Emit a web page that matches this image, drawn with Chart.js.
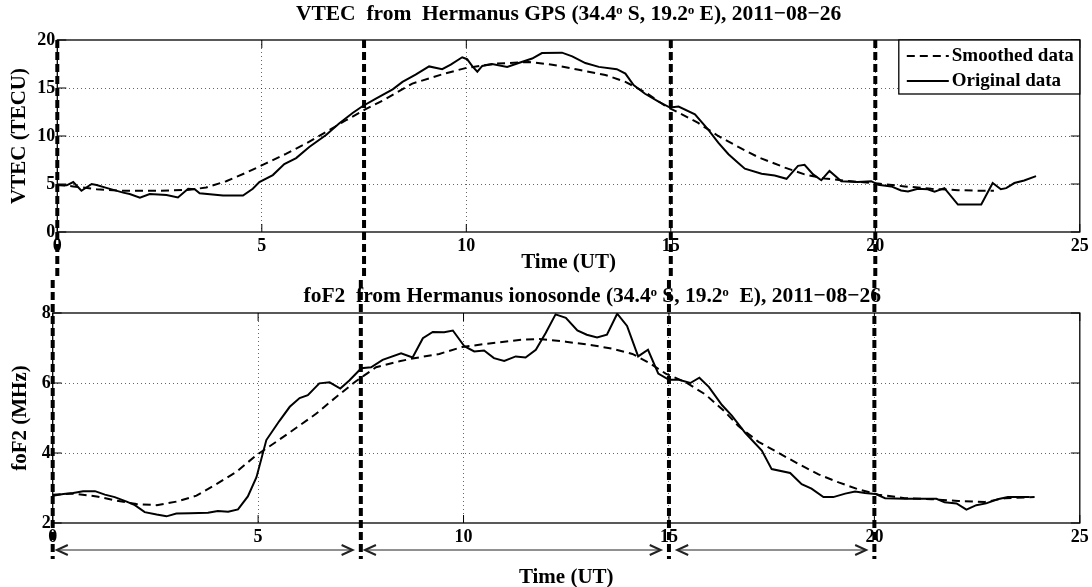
<!DOCTYPE html>
<html>
<head>
<meta charset="utf-8">
<script src="https://cdn.jsdelivr.net/npm/chart.js@4.4.0/dist/chart.umd.min.js"></script>
<style>
  html, body { margin: 0; padding: 0; background: #fff; }
  #wrap { position: relative; width: 1092px; height: 587px; overflow: hidden; }
  #vtecChart { position: absolute; left: 0; top: 0; }
  #fof2Chart { position: absolute; left: 0; top: 280px; }
</style>
</head>
<body>
<div id="wrap">
  <canvas id="vtecChart" width="1092" height="280"></canvas>
  <canvas id="fof2Chart" width="1092" height="307"></canvas>
</div>
<script>
// VTEC, original data (hours UT / TECU)
var vtecRawTime = [0, 0.23, 0.39, 0.59, 0.84, 0.96, 1.2, 1.61, 1.77, 2.02, 2.26, 2.67, 2.95, 3.2, 3.36, 3.48, 4.05, 4.54, 4.78, 4.94,
  5.27, 5.55, 5.84, 6.16, 6.57, 6.89, 7.22, 7.46, 7.79, 8.2, 8.44, 8.76, 9.09, 9.41, 9.62, 9.9, 10.02, 10.15, 10.27, 10.39,
  10.63, 11.0, 11.28, 11.61, 11.85, 12.34, 12.59, 12.91, 13.24, 13.68, 13.89, 14.09, 14.37, 14.7, 14.98, 15.19, 15.59, 15.92, 16.16, 16.41,
  16.65, 16.81, 17.22, 17.54, 17.83, 18.11, 18.27, 18.48, 18.68, 18.88, 19.17, 19.57, 19.9, 20.07, 20.39, 20.63, 20.8, 21.04, 21.28, 21.45,
  21.69, 22.02, 22.59, 22.87, 23.07, 23.2, 23.4, 23.64, 23.93];
var vtecRawValue = [4.86, 4.86, 5.2, 4.3, 5.0, 4.9, 4.6, 4.1, 3.96, 3.57, 3.96, 3.86, 3.6, 4.5, 4.46, 4.03, 3.79, 3.79, 4.5, 5.2,
  5.93, 7.07, 7.7, 8.86, 10.1, 11.3, 12.4, 13.1, 13.9, 14.86, 15.64, 16.4, 17.25, 16.96, 17.43, 18.2, 18.0, 17.25, 16.7, 17.3,
  17.5, 17.2, 17.6, 18.07, 18.64, 18.68, 18.3, 17.6, 17.2, 16.96, 16.5, 15.3, 14.4, 13.57, 12.96, 13.07, 12.25, 10.64, 9.3, 8.1,
  7.2, 6.6, 6.07, 5.89, 5.54, 6.89, 7.0, 6.0, 5.39, 6.36, 5.29, 5.21, 5.29, 4.93, 4.75, 4.32, 4.21, 4.5, 4.46, 4.21,
  4.57, 2.86, 2.86, 5.1, 4.46, 4.57, 5.1, 5.36, 5.82];

// VTEC, smoothed
var vtecSmoothTime = [0, 0.39, 0.96, 1.61, 2.42, 3.24, 3.64, 4.13, 4.62, 5.1, 5.59, 6.08, 6.57, 7.06, 7.54, 8.03, 8.68, 9.5, 9.98, 10.72,
  11.53, 12.1, 12.75, 13.4, 13.89, 14.37, 14.86, 15.19, 15.67, 16.16, 16.65, 17.14, 17.79, 18.27, 18.76, 19.41, 20.07, 20.72, 21.37, 22.02,
  22.67, 22.9];
var vtecSmoothValue = [4.93, 4.75, 4.46, 4.29, 4.29, 4.39, 4.64, 5.29, 6.18, 7.14, 8.14, 9.21, 10.43, 11.64, 12.79, 13.86, 15.46, 16.54, 17.07, 17.54,
  17.71, 17.43, 16.9, 16.36, 15.64, 14.57, 13.14, 12.43, 11.36, 10.0, 8.86, 7.79, 6.71, 6.0, 5.57, 5.29, 5.04, 4.75, 4.5, 4.36,
  4.29, 4.3];

// foF2, original data (hours UT / MHz)
var fof2RawTime = [0, 0.26, 0.5, 0.74, 1.03, 1.27, 1.51, 1.8, 2.0, 2.24, 2.53, 2.77, 3.01, 3.34, 3.78, 4.02, 4.27, 4.51, 4.75, 4.96,
  5.2, 5.52, 5.77, 6.01, 6.21, 6.49, 6.74, 7.0, 7.22, 7.51, 7.75, 8.03, 8.48, 8.76, 9.01, 9.25, 9.53, 9.74, 10.02, 10.26,
  10.5, 10.74, 10.99, 11.27, 11.51, 11.76, 12.0, 12.24, 12.49, 12.77, 13.0, 13.25, 13.49, 13.74, 13.98, 14.25, 14.49, 14.74, 15.0, 15.24,
  15.52, 15.74, 15.97, 16.29, 16.53, 16.86, 17.26, 17.5, 17.95, 18.23, 18.47, 18.76, 19.0, 19.29, 19.53, 19.77, 20.02, 20.26, 20.74, 21.23,
  21.51, 21.71, 22.0, 22.24, 22.48, 22.72, 23.0, 23.25, 23.49, 23.78];
var fof2RawValue = [2.78, 2.83, 2.86, 2.91, 2.91, 2.81, 2.74, 2.61, 2.51, 2.31, 2.24, 2.19, 2.27, 2.28, 2.29, 2.34, 2.32, 2.39, 2.76, 3.31,
  4.37, 4.92, 5.32, 5.57, 5.65, 5.99, 6.02, 5.84, 6.07, 6.42, 6.45, 6.66, 6.85, 6.73, 7.28, 7.46, 7.45, 7.5, 7.05, 6.9,
  6.93, 6.71, 6.63, 6.76, 6.73, 6.95, 7.43, 7.96, 7.86, 7.5, 7.38, 7.3, 7.38, 7.98, 7.63, 6.76, 6.95, 6.27, 6.09, 6.09,
  6.0, 6.15, 5.89, 5.37, 5.07, 4.57, 4.07, 3.54, 3.43, 3.11, 2.98, 2.74, 2.74, 2.84, 2.9, 2.86, 2.83, 2.71, 2.69, 2.69,
  2.69, 2.59, 2.56, 2.38, 2.51, 2.56, 2.68, 2.74, 2.74, 2.74];

// foF2, smoothed
var fof2SmoothTime = [0, 0.5, 1.07, 1.55, 2.04, 2.53, 3.01, 3.5, 3.98, 4.47, 4.96, 5.44, 5.93, 6.41, 6.9, 7.38, 7.87, 8.44, 8.76, 9.41,
  9.97, 10.63, 11.35, 11.84, 12.49, 13.13, 13.62, 14.11, 14.51, 14.92, 15.41, 15.89, 16.37, 16.69, 17.18, 17.67, 18.15, 18.64, 19.13, 19.61,
  20.1, 20.74, 21.39, 22.04, 22.69, 23.18, 23.9];
var fof2SmoothValue = [2.81, 2.84, 2.76, 2.64, 2.54, 2.51, 2.61, 2.78, 3.11, 3.46, 3.94, 4.32, 4.72, 5.12, 5.6, 6.05, 6.45, 6.62, 6.7, 6.83,
  7.03, 7.13, 7.23, 7.26, 7.18, 7.08, 6.98, 6.83, 6.58, 6.27, 6.02, 5.67, 5.17, 4.77, 4.32, 4.0, 3.69, 3.39, 3.16, 2.96,
  2.81, 2.71, 2.68, 2.63, 2.6, 2.71, 2.74];

// time boundaries (UT) and the intervals marked with arrows
var markerTimes = [0, 7.5, 15, 20];
var arrowSpans = [[0.1, 7.3], [7.6, 14.8], [15.2, 19.8]];

var xTicks = [0, 5, 10, 15, 20, 25];
var vtecTicks = [0, 5, 10, 15, 20];
var fof2Ticks = [2, 4, 6, 8];

var FONT = "'Liberation Serif', 'Times New Roman', serif";

function pairs(t, v) {
  return t.map(function (x, i) { return { x: x, y: v[i] }; });
}

var overlay = {
  id: 'overlay',
  afterLayout: function (chart, args, opts) {
    // the lower title sits a little right of the axes centre in the original
    if (opts.titleShift && chart.titleBlock) {
      chart.titleBlock.left += opts.titleShift;
      chart.titleBlock.right += opts.titleShift;
    }
  },
  afterDatasetsDraw: function (chart, args, opts) {
    var ctx = chart.ctx, a = chart.chartArea, xs = chart.scales.x, ys = chart.scales.y;
    ctx.save();

    // axes box with inward ticks
    ctx.strokeStyle = '#000';
    ctx.lineWidth = 1.3;
    ctx.strokeRect(a.left, a.top, a.right - a.left, a.bottom - a.top);
    ctx.lineWidth = 1;
    ctx.beginPath();
    xs.ticks.forEach(function (t) {
      var x = xs.getPixelForValue(t.value);
      ctx.moveTo(x, a.bottom); ctx.lineTo(x, a.bottom - 8);
      ctx.moveTo(x, a.top); ctx.lineTo(x, a.top + 8);
    });
    ys.ticks.forEach(function (t) {
      var y = ys.getPixelForValue(t.value);
      ctx.moveTo(a.left, y); ctx.lineTo(a.left + 9, y);
      ctx.moveTo(a.right, y); ctx.lineTo(a.right - 9, y);
    });
    ctx.stroke();

    // thick dashed boundaries
    ctx.lineWidth = 4;
    ctx.setLineDash([8, 4]);
    markerTimes.forEach(function (t) {
      var x = xs.getPixelForValue(t);
      ctx.beginPath();
      ctx.moveTo(x, opts.upper ? a.top : 0);
      ctx.lineTo(x, opts.upper ? chart.height : a.bottom + 36);
      ctx.stroke();
    });
    ctx.setLineDash([]);

    // double-headed arrows under the lower panel
    if (opts.arrows) {
      var ay = a.bottom + 27;
      ctx.strokeStyle = '#222';
      arrowSpans.forEach(function (s) {
        var x1 = xs.getPixelForValue(s[0]), x2 = xs.getPixelForValue(s[1]);
        ctx.lineWidth = 1;
        ctx.beginPath(); ctx.moveTo(x1, ay); ctx.lineTo(x2, ay); ctx.stroke();
        ctx.lineWidth = 2;
        ctx.beginPath();
        ctx.moveTo(x1 + 11, ay - 5); ctx.lineTo(x1, ay); ctx.lineTo(x1 + 11, ay + 5);
        ctx.moveTo(x2 - 11, ay - 5); ctx.lineTo(x2, ay); ctx.lineTo(x2 - 11, ay + 5);
        ctx.stroke();
      });
    }

    // legend box
    if (opts.legend) {
      var w = 181, h = 54, lx = a.right - w, ly = a.top;
      ctx.fillStyle = '#fff';
      ctx.fillRect(lx, ly, w, h);
      ctx.strokeStyle = '#000';
      ctx.lineWidth = 1.3;
      ctx.strokeRect(lx, ly, w, h);
      ctx.font = 'bold 19px ' + FONT;
      ctx.textBaseline = 'middle';
      ctx.fillStyle = '#000';
      chart.data.datasets.forEach(function (ds, i) {
        var y = ly + 16 + i * 25;
        ctx.lineWidth = 2;
        ctx.setLineDash(ds.borderDash || []);
        ctx.beginPath(); ctx.moveTo(lx + 8, y); ctx.lineTo(lx + 50, y); ctx.stroke();
        ctx.setLineDash([]);
        ctx.fillText(ds.label, lx + 53, y);
      });
    }
    ctx.restore();
  }
};

function makeChart(id, o) {
  var gridColor = function (c) {
    return (c.tick && (c.tick.value === c.scale.min || c.tick.value === c.scale.max)) ? 'rgba(0,0,0,0)' : 'rgba(0,0,0,0.6)';
  };
  return new Chart(document.getElementById(id), {
    type: 'line',
    data: {
      datasets: [
        { label: 'Smoothed data', data: pairs(o.smoothT, o.smoothV), borderColor: '#000', borderWidth: 2, borderDash: [8, 5], pointRadius: 0, fill: false },
        { label: 'Original data', data: pairs(o.rawT, o.rawV), borderColor: '#000', borderWidth: 2, pointRadius: 0, fill: false }
      ]
    },
    options: {
      responsive: false,
      animation: false,
      devicePixelRatio: 1,
      layout: { padding: { left: 0, right: o.padRight, top: 0, bottom: 0 } },
      plugins: {
        legend: { display: false },
        tooltip: { enabled: false },
        title: {
          display: true, text: o.title, fullSize: false, color: '#000',
          font: { family: FONT, size: 21.5, weight: 'bold' },
          padding: { top: o.titleTop, bottom: o.titleBottom }
        },
        overlay: { upper: o.upper, legend: o.upper, arrows: !o.upper, titleShift: o.titleShift }
      },
      scales: {
        x: {
          type: 'linear', min: 0, max: 25,
          afterBuildTicks: function (s) { s.ticks = xTicks.map(function (v) { return { value: v }; }); },
          afterFit: function (s) { s.height = o.xHeight; },
          grid: { color: gridColor, lineWidth: 1, drawTicks: false },
          border: { display: false, dash: [1, 3] },
          ticks: { color: '#000', padding: o.xTickPad, maxRotation: 0, font: { family: FONT, size: 18, weight: 'bold' } },
          title: { display: true, text: 'Time (UT)', color: '#000', font: { family: FONT, size: 21, weight: 'bold' }, padding: { top: 0, bottom: o.xTitlePad } }
        },
        y: {
          type: 'linear', min: o.yTicks[0], max: o.yTicks[o.yTicks.length - 1],
          afterBuildTicks: function (s) { s.ticks = o.yTicks.map(function (v) { return { value: v }; }); },
          afterFit: function (s) { s.width = o.yWidth; },
          grid: { color: gridColor, lineWidth: 1, drawTicks: false },
          border: { display: false, dash: [1, 3] },
          ticks: { color: '#000', padding: 2, font: { family: FONT, size: 18, weight: 'bold' } },
          title: { display: true, text: o.yTitle, color: '#000', font: { family: FONT, size: 21, weight: 'bold' }, padding: { top: o.yTitlePad, bottom: 0 } }
        }
      }
    },
    plugins: [overlay]
  });
}

makeChart('vtecChart', {
  title: 'VTEC  from  Hermanus GPS (34.4\u1d52 S, 19.2\u1d52 E), 2011\u221208\u221226',
  yTitle: 'VTEC (TECU)', yTicks: vtecTicks,
  rawT: vtecRawTime, rawV: vtecRawValue, smoothT: vtecSmoothTime, smoothV: vtecSmoothValue,
  upper: true, padRight: 9.7, titleTop: 2, titleBottom: 12.2, titleShift: 0,
  xHeight: 48, xTickPad: 3.2, xTitlePad: 4.4, yWidth: 57.3, yTitlePad: 7
});

makeChart('fof2Chart', {
  title: 'foF2  from Hermanus ionosonde (34.4\u1d52 S, 19.2\u1d52  E), 2011\u221208\u221226',
  yTitle: 'foF2 (MHz)', yTicks: fof2Ticks,
  rawT: fof2RawTime, rawV: fof2RawValue, smoothT: fof2SmoothTime, smoothV: fof2SmoothValue,
  upper: false, padRight: 10.3, titleTop: 3.1, titleBottom: 4.1, titleShift: 26,
  xHeight: 64, xTickPad: 3.2, xTitlePad: -3, yWidth: 52.7, yTitlePad: 8
});
</script>
</body>
</html>
